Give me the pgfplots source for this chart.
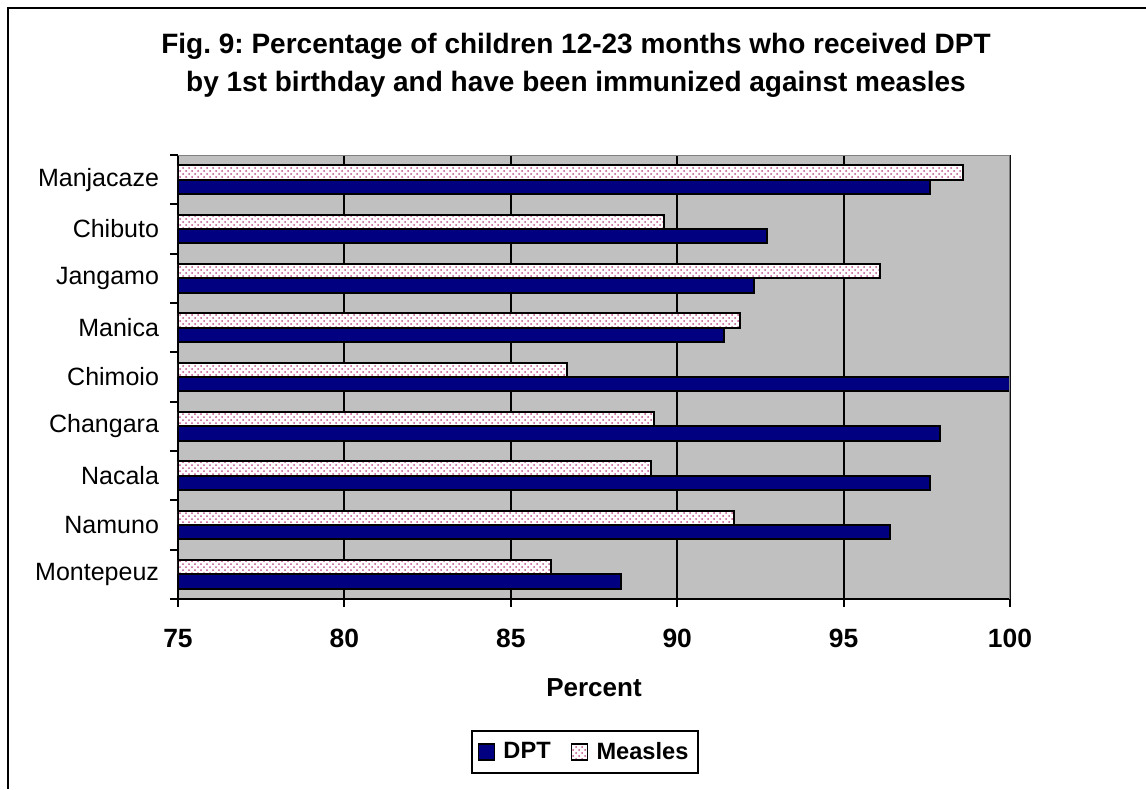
\documentclass[border=0pt]{standalone}
\usepackage{pgfplots}
\pgfplotsset{compat=1.18}
\usepackage{pgfplotstable}
\usepackage{fontspec}
\setmainfont{Liberation Sans}
\usetikzlibrary{patterns}
\definecolor{navy}{RGB}{0,0,128}
\definecolor{plotbg}{RGB}{192,192,192}
\definecolor{dotpink}{RGB}{190,80,140}
\definecolor{edgegray}{RGB}{128,128,128}
\frenchspacing

\pgfplotstableread{
idx dpt measles
0 88.3 86.2
1 96.4 91.7
2 97.6 89.2
3 97.9 89.3
4 100.0 86.7
5 91.4 91.9
6 92.3 96.1
7 92.7 89.6
8 97.6 98.6
}\datatable

\begin{document}
\begin{tikzpicture}
\path[use as bounding box] (0,0) rectangle (573pt,-394.5pt);
\draw[line width=1pt] (4pt,-394.5pt) -- (4pt,-4pt) -- (573pt,-4pt);
\node[align=center, font=\fontsize{14}{19}\selectfont\bfseries] at (288pt,-32.5pt)
  {Fig. 9: Percentage of children 12-23 months who received DPT\\by 1st birthday and have been immunized against measles};
\begin{axis}[
  at={(89pt,-299.5pt)}, anchor=south west,
  scale only axis, width=416pt, height=222pt,
  xbar, bar width=0.29,
  xmin=75, xmax=100, ymin=-0.5, ymax=8.5,
  axis x line*=bottom, axis y line*=left,
  axis line style={black, line width=1pt},
  axis background/.style={fill=plotbg},
  xtick={75,80,...,100},
  xmajorgrids, grid style={black, line width=1pt},
  tick align=outside, major tick length=4pt,
  every tick/.style={black, line width=1pt},
  /pgf/number format/assume math mode=true,
  xticklabel style={font=\fontsize{13.2}{15}\selectfont\bfseries, yshift=-7.5pt},
  ytick={-0.5,0.5,...,8.5},
  yticklabels={{},Montepeuz,Namuno,Nacala,Changara,Chimoio,Manica,Jangamo,Chibuto,Manjacaze},
  yticklabel style={font=\fontsize{12.5}{14}\selectfont, yshift=-12.33pt, xshift=-2pt},
  xlabel={Percent},
  xlabel style={font=\fontsize{13}{15}\selectfont\bfseries, at={(axis description cs:0.5,0)}, anchor=center, yshift=-44.5pt},
  legend style={at={(0.4892,-0.3446)}, anchor=center, draw=black, line width=1pt,
    font=\fontsize{11.8}{13}\selectfont\bfseries, inner xsep=3pt, inner ysep=3.5pt,
    /tikz/every even column/.append style={column sep=8pt}},
  legend columns=-1,
  legend image code/.code={\draw[#1, line width=0.9pt] (0pt,-4pt) rectangle (8pt,4pt); \path (10pt,0pt);},
  clip=true,
]
\addplot[draw=black, line width=1pt, fill=navy, bar shift=-0.145] table[x=dpt, y=idx] {\datatable};
\addplot[draw=black, line width=1pt, fill=white, postaction={pattern=crosshatch dots, pattern color=dotpink}, bar shift=0.145] table[x=measles, y=idx] {\datatable};
\legend{DPT, Measles}
\draw[edgegray, line width=1.2pt] (rel axis cs:0,1) -- (rel axis cs:1,1) -- (rel axis cs:1,0);
\end{axis}
\end{tikzpicture}
\end{document}
